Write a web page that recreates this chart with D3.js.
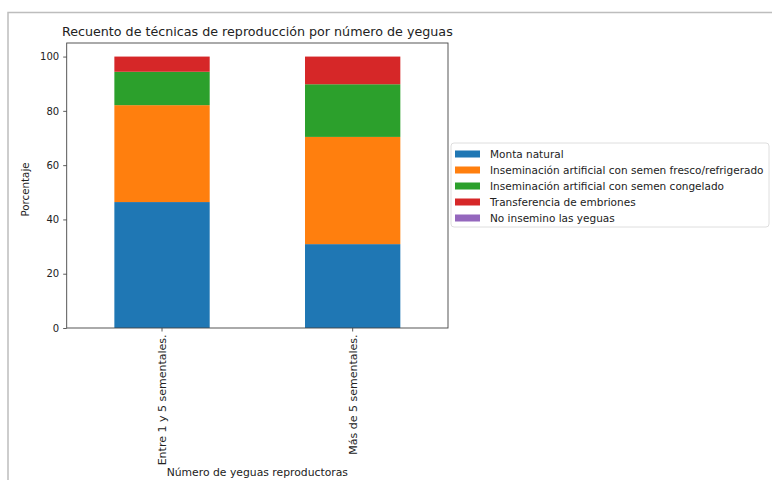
<!DOCTYPE html>
<html>
<head>
<meta charset="utf-8">
<script src="https://cdn.jsdelivr.net/npm/d3@7"></script>
<style>
  body { margin: 0; background: #fff; }
  svg { font-family: "DejaVu Sans", sans-serif; }
</style>
</head>
<body>
<div id="chart"></div>
<script>
// datos
const categories = ["Entre 1 y 5 sementales.", "Más de 5 sementales."];
const seriesNames = [
  "Monta natural",
  "Inseminación artificial con semen fresco/refrigerado",
  "Inseminación artificial con semen congelado",
  "Transferencia de embriones",
  "No insemino las yeguas"
];
const montaNatural = [46.4, 30.9];
const semenFresco = [35.7, 39.5];
const semenCongelado = [12.3, 19.4];
const transferencia = [5.6, 10.2];
const noInsemino = [0, 0];
const yTicks = [0, 20, 40, 60, 80, 100];
const colors = ["#1f77b4", "#ff7f0e", "#2ca02c", "#d62728", "#9467bd"];

const width = 772;
const height = 480;
const margin = {left: 66.7, right: 324, top: 43, bottom: 152};

const svg = d3.select("#chart").append("svg")
  .attr("width", width)
  .attr("height", height);

// marco gris de la imagen
svg.append("path")
  .attr("d", `M8,${height} V12.5 H${width}`)
  .attr("fill", "none")
  .attr("stroke", "#bdbdbd")
  .attr("stroke-width", 1.5);

const table = categories.map((c, i) => ({
  cat: c,
  s0: montaNatural[i], s1: semenFresco[i], s2: semenCongelado[i], s3: transferencia[i], s4: noInsemino[i]
}));
const stack = d3.stack().keys(["s0", "s1", "s2", "s3", "s4"]);
const layers = stack(table);

// como en matplotlib: ancho de barra 0.5, margen de 0.5 a cada lado
const x = d3.scaleBand()
  .domain(categories)
  .range([margin.left, width - margin.right])
  .paddingInner(0.5)
  .paddingOuter(0.25);
const y = d3.scaleLinear()
  .domain([0, 105])
  .range([height - margin.bottom, margin.top]);

// barras
svg.append("g").selectAll("g")
  .data(layers)
  .join("g")
  .attr("fill", (d, i) => colors[i])
  .selectAll("rect")
  .data(d => d)
  .join("rect")
  .attr("x", d => x(d.data.cat))
  .attr("y", d => y(d[1]))
  .attr("width", x.bandwidth())
  .attr("height", d => y(d[0]) - y(d[1]));

// ejes
const yAxis = svg.append("g")
  .attr("transform", `translate(${margin.left},0)`)
  .call(d3.axisLeft(y).tickValues(yTicks).tickSize(3.5).tickPadding(4));
const xAxis = svg.append("g")
  .attr("transform", `translate(0,${height - margin.bottom})`)
  .call(d3.axisBottom(x).tickSize(3.5).tickPadding(3));

[yAxis, xAxis].forEach(a => {
  a.select(".domain").remove();
  a.selectAll("text").attr("font-size", 10).attr("fill", "#222").attr("font-family", "DejaVu Sans, sans-serif");
  a.selectAll("line").attr("stroke", "#333").attr("stroke-width", 0.8);
});

xAxis.selectAll("text")
  .attr("font-size", 11)
  .attr("transform", "rotate(-90)")
  .attr("text-anchor", "end")
  .attr("dy", "0.35em")
  .attr("x", -6.5)
  .attr("y", 0);

// borde de los ejes
svg.append("rect")
  .attr("x", margin.left)
  .attr("y", margin.top)
  .attr("width", width - margin.right - margin.left)
  .attr("height", height - margin.bottom - margin.top)
  .attr("fill", "none")
  .attr("stroke", "#444")
  .attr("stroke-width", 0.9);

const cx = (margin.left + width - margin.right) / 2;

// título
svg.append("text")
  .attr("x", cx)
  .attr("y", 36)
  .attr("text-anchor", "middle")
  .attr("font-size", 12.7)
  .attr("fill", "#222")
  .text("Recuento de técnicas de reproducción por número de yeguas");

// etiquetas de ejes
svg.append("text")
  .attr("transform", `translate(29,${(margin.top + height - margin.bottom) / 2 + 4}) rotate(-90)`)
  .attr("text-anchor", "middle")
  .attr("font-size", 10.3)
  .attr("fill", "#222")
  .text("Porcentaje");

svg.append("text")
  .attr("x", cx)
  .attr("y", 476)
  .attr("text-anchor", "middle")
  .attr("font-size", 10.8)
  .attr("fill", "#222")
  .text("Número de yeguas reproductoras");

// leyenda
const legend = svg.append("g").attr("transform", "translate(451,143)");
legend.append("rect")
  .attr("width", 318)
  .attr("height", 84)
  .attr("rx", 3)
  .attr("fill", "#fff")
  .attr("stroke", "#d6d6d6")
  .attr("stroke-width", 0.8);

const item = legend.selectAll("g.item")
  .data(seriesNames)
  .join("g")
  .attr("class", "item")
  .attr("transform", (d, i) => `translate(4,${11 + i * 16})`);
item.append("rect")
  .attr("x", 0)
  .attr("y", -3.5)
  .attr("width", 25)
  .attr("height", 7)
  .attr("fill", (d, i) => colors[i]);
item.append("text")
  .attr("x", 35)
  .attr("dy", "0.35em")
  .attr("font-size", 10.5)
  .attr("fill", "#222")
  .text(d => d);
</script>
</body>
</html>
